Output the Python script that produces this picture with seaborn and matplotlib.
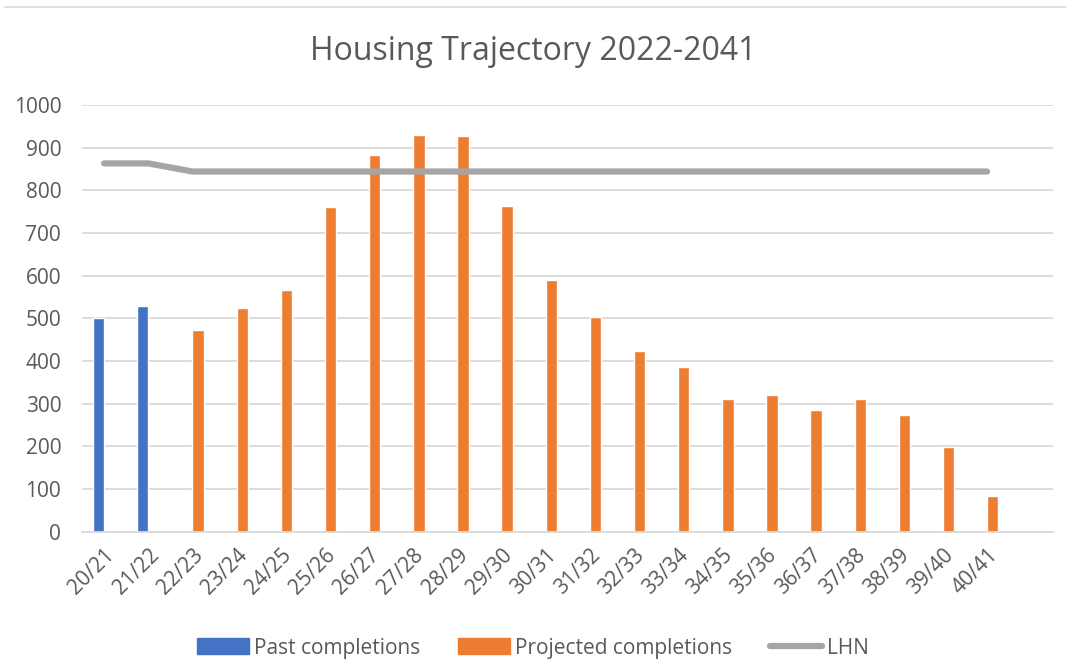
import numpy as np
import pandas as pd
import seaborn as sns
import matplotlib
matplotlib.use("Agg")
import matplotlib.pyplot as plt
from matplotlib.lines import Line2D
from matplotlib.patches import Patch

# data
years = ["20/21", "21/22", "22/23", "23/24", "24/25", "25/26", "26/27", "27/28",
         "28/29", "29/30", "30/31", "31/32", "32/33", "33/34", "34/35", "35/36",
         "36/37", "37/38", "38/39", "39/40", "40/41"]
past = [500, 530]
projected = [473, 524, 567, 760, 883, 930, 927, 764, 589, 503, 424, 386,
             311, 321, 286, 311, 273, 198, 83]
lhn = [863, 863] + [844] * 19

# excel leaves one empty category at the right end
cats = years + [""]

rows = []
for y, v in zip(years[:2], past):
    rows.append((y, "Past completions", v))
for y, v in zip(years[2:], projected):
    rows.append((y, "Projected completions", v))
df = pd.DataFrame(rows, columns=["year", "series", "value"])

sns.set_style("white")
plt.rcParams["font.family"] = ["Open Sans", "DejaVu Sans"]
txt = "#595959"

fig = plt.figure(figsize=(10.66, 6.64), dpi=100)
ax = fig.add_axes([0.077, 0.199, 0.911, 0.643])

palette = {"Past completions": "#4472C4", "Projected completions": "#ED7D31"}
sns.barplot(data=df, x="year", y="value", hue="series", order=cats,
            hue_order=list(palette), palette=palette, width=0.52,
            saturation=1, dodge=True, legend=False, ax=ax)

sns.lineplot(x=np.arange(len(years)), y=lhn, color="#A5A5A5", linewidth=4.5,
             solid_capstyle="round", ax=ax, zorder=3)

ax.set_xlim(-0.5, len(cats) - 0.5)
ax.set_ylim(0, 1000)
ax.set_yticks(range(0, 1001, 100))
ax.yaxis.grid(True, color="#D9D9D9", linewidth=1.3)
ax.set_axisbelow(True)
for s in ["top", "right", "left"]:
    ax.spines[s].set_visible(False)
ax.spines["bottom"].set_color("#D9D9D9")
ax.spines["bottom"].set_linewidth(1.3)
ax.set_xlabel("")
ax.set_ylabel("")
ax.set_xticks(range(len(cats)))
ax.set_xticklabels(cats, rotation=45, ha="right", rotation_mode="anchor")
ax.tick_params(axis="both", length=0, labelsize=15, colors=txt)
ax.tick_params(axis="y", pad=15)
ax.tick_params(axis="x", pad=9)

fig.text(0.5, 0.923, "Housing Trajectory 2022-2041", ha="center", va="center",
         fontsize=23, color=txt)

handles = [Patch(color="#4472C4"), Patch(color="#ED7D31"),
           Line2D([], [], color="#A5A5A5", linewidth=4.5, solid_capstyle="round")]
fig.legend(handles, ["Past completions", "Projected completions", "LHN"],
           loc="center", bbox_to_anchor=(0.5, 0.024), ncol=3, frameon=False,
           fontsize=15, labelcolor=txt, handlelength=2.5, handleheight=0.8,
           columnspacing=1.8, handletextpad=0.25)

fig.add_artist(Line2D([0.005, 1.0], [0.989, 0.989], color="#D9D9D9", linewidth=1.2))

fig.savefig("out.png", dpi=100)
